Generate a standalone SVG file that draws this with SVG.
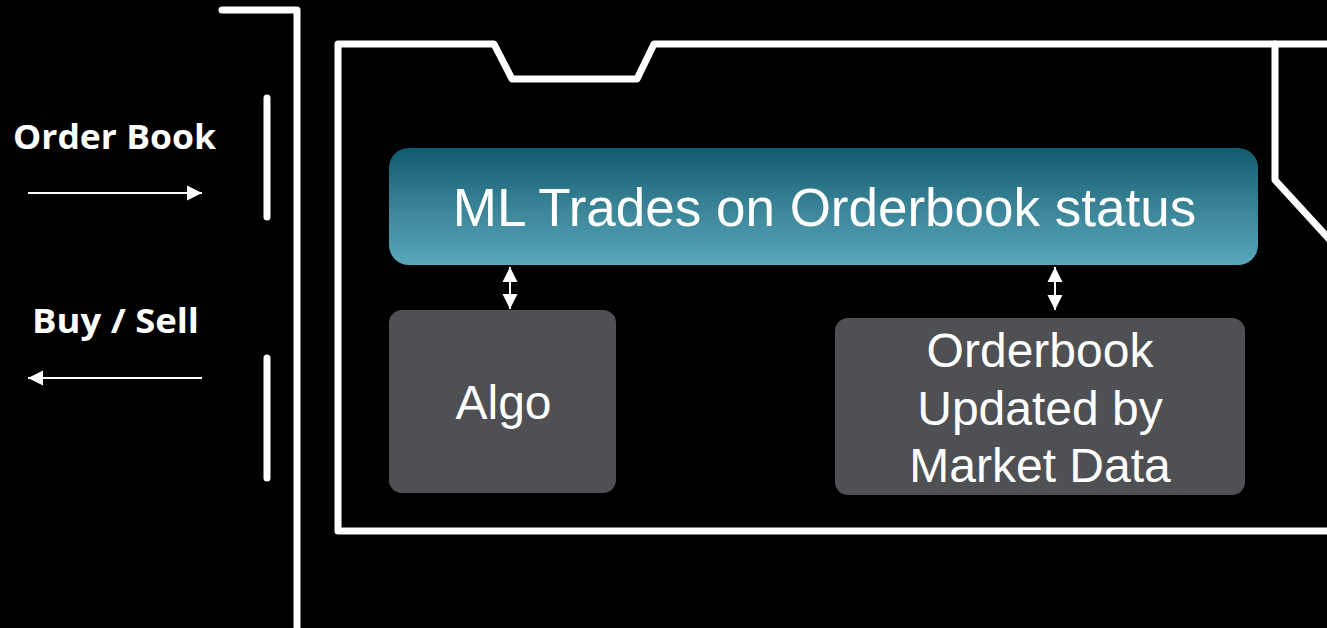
<svg xmlns="http://www.w3.org/2000/svg" width="1327" height="628" viewBox="0 0 1327 628">
  <defs>
    <linearGradient id="teal" x1="0" y1="0" x2="0" y2="1">
      <stop offset="0" stop-color="#105b6e"/>
      <stop offset="0.5" stop-color="#3a8396"/>
      <stop offset="1" stop-color="#58a7bb"/>
    </linearGradient>
    <marker id="ah2" viewBox="0 0 10 10" refX="10" refY="5" markerWidth="15" markerHeight="16" markerUnits="userSpaceOnUse" orient="auto-start-reverse">
      <path d="M0,0 L10,5 L0,10 Z" fill="#ffffff"/>
    </marker>
  </defs>
  <style>
    .frame { fill: none; stroke: #ffffff; stroke-width: 7; stroke-linejoin: round; stroke-linecap: round; }
    .bar { stroke: #ffffff; stroke-width: 7; stroke-linecap: round; }
    .conn { stroke: #ffffff; stroke-width: 2; fill: none; }
    .lbl { font-family: "Open Sans", "DejaVu Sans", sans-serif; font-weight: bold; font-size: 34px; fill: #ffffff; }
    .box { font-family: "Liberation Sans", Arial, sans-serif; font-size: 48px; fill: #ffffff; text-anchor: middle; }
  </style>
  <rect width="1327" height="628" fill="#000000"/>

  <g id="bracket">
    <path class="frame" d="M222,10 L297,10 L297,632"/>
    <line class="bar" x1="267" y1="98" x2="267" y2="217"/>
    <line class="bar" x1="267" y1="358" x2="267" y2="478"/>
  </g>

  <g id="label-orderbook">
    <text class="lbl" x="13" y="149" textLength="203" lengthAdjust="spacingAndGlyphs">Order Book</text>
  </g>
  <g id="label-buysell">
    <text class="lbl" x="32" y="333" textLength="167" lengthAdjust="spacingAndGlyphs">Buy / Sell</text>
  </g>

  <g id="container">
    <path class="frame" d="M1330,531 L338,531 L338,44 L494,44 L512,79 L637,79 L654,44 L1330,44"/>
    <path class="frame" d="M1275,44 L1275,180 L1330,240"/>
  </g>

  <g id="node-ml">
    <rect x="389" y="148" width="869" height="117" rx="20" fill="url(#teal)"/>
    <text class="box" x="824.5" y="226" style="font-size:53px">ML Trades on Orderbook status</text>
  </g>

  <g id="node-algo">
    <rect x="389" y="310" width="227" height="183" rx="13" fill="#4f5054"/>
    <text class="box" x="503.5" y="419">Algo</text>
  </g>

  <g id="node-orderbook">
    <rect x="835" y="318" width="410" height="177" rx="13" fill="#4f5054"/>
    <text class="box" x="1040" y="367">Orderbook</text>
    <text class="box" x="1040" y="425">Updated by</text>
    <text class="box" x="1040" y="482">Market Data</text>
  </g>

  <g id="connectors">
    <line class="conn" x1="28" y1="193" x2="202" y2="193" marker-end="url(#ah2)"/>
    <line class="conn" x1="202" y1="378" x2="28" y2="378" marker-end="url(#ah2)"/>
    <line class="conn" x1="510" y1="267" x2="510" y2="309" marker-start="url(#ah2)" marker-end="url(#ah2)"/>
    <line class="conn" x1="1055" y1="267" x2="1055" y2="310" marker-start="url(#ah2)" marker-end="url(#ah2)"/>
  </g>
</svg>
